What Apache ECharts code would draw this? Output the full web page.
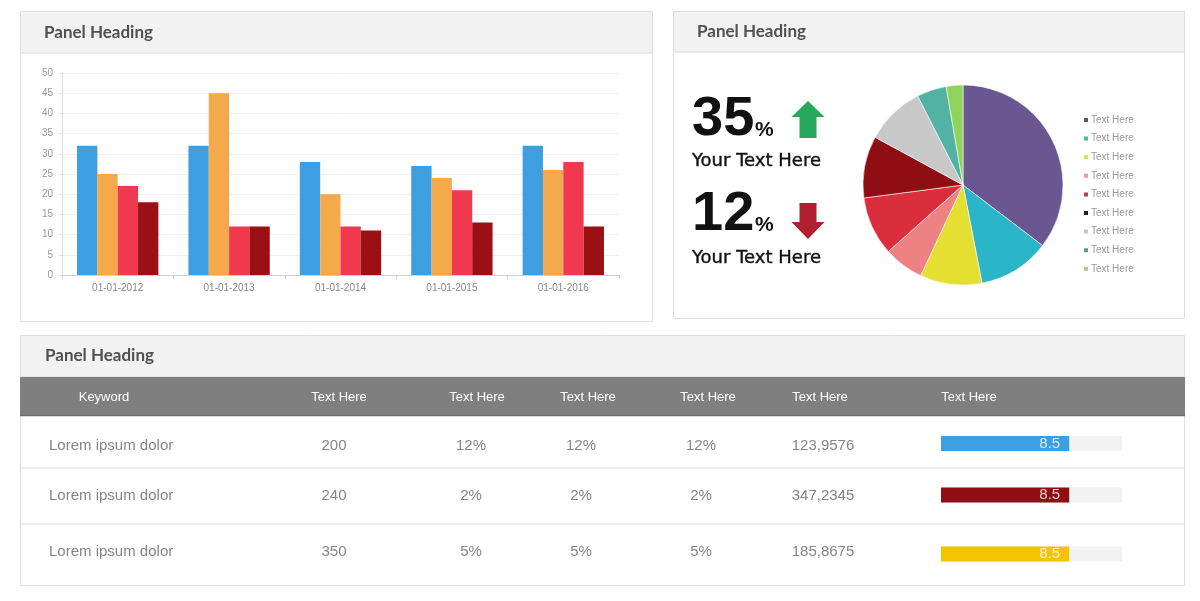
<!DOCTYPE html>
<html>
<head>
<meta charset="utf-8">
<script src="https://cdn.jsdelivr.net/npm/echarts@6/dist/echarts.min.js"></script>
<style>
  html, body { margin: 0; padding: 0; background: #ffffff; }
  #chart { width: 1200px; height: 601px; }
</style>
</head>
<body>
<div id="chart"></div>
<script>
// ---------- data ----------
const barCategories = ['01-01-2012', '01-01-2013', '01-01-2014', '01-01-2015', '01-01-2016'];
const seriesBlue   = [32, 32, 28, 27, 32];
const seriesOrange = [25, 45, 20, 24, 26];
const seriesRed    = [22, 12, 12, 21, 28];
const seriesDark   = [18, 12, 11, 13, 12];
const barColors = ['#3d9fe0', '#f4a94a', '#f0394f', '#9b1015'];

const pieValues = [35.4, 11.6, 10, 6.5, 9.5, 10, 9.6, 4.8, 2.7];
const pieColors = ['#6a5690', '#2bb5c8', '#e4df30', '#ee8282', '#dc2d3d', '#8e0e14', '#c8c8c8', '#52b3a4', '#8fd45a'];
const legendColors = ['#555555', '#4fb5a8', '#d9e24d', '#e89aaa', '#c03a4e', '#2b1a22', '#c8c8c8', '#5f9c8c', '#a9c896'];
const pieLabel = 'Text Here';

const statValues = ['35', '12'];
const statTexts = ['Your Text Here', 'Your Text Here'];

const tableHeaders = ['Keyword', 'Text Here', 'Text Here', 'Text Here', 'Text Here', 'Text Here', 'Text Here'];
const tableKeywords = ['Lorem ipsum dolor', 'Lorem ipsum dolor', 'Lorem ipsum dolor'];
const tableCol1 = ['200', '240', '350'];
const tableCol2 = ['12%', '2%', '5%'];
const tableCol3 = ['12%', '2%', '5%'];
const tableCol4 = ['12%', '2%', '5%'];
const tableCol5 = ['123,9576', '347,2345', '185,8675'];
const progressValues = [8.5, 8.5, 8.5];
const progressColors = ['#3d9fe0', '#8e0e14', '#f5c400'];
const progressMax = 12;

// ---------- layout ----------
const headFont = 'Lato, "Open Sans", sans-serif';
const tableFont = '"Liberation Sans", Arial, sans-serif';

const graphics = [];
function panel(x, y, w, h, headH, title, tx, ty) {
  graphics.push({ type: 'rect', z: -10, shape: { x: x + 0.5, y: y + 0.5, width: w, height: h },
    style: { fill: '#ffffff', stroke: '#dddddd', lineWidth: 1 } });
  graphics.push({ type: 'rect', z: -9, shape: { x: x + 1, y: y + 1, width: w - 1, height: headH },
    style: { fill: '#f2f2f2' } });
  graphics.push({ type: 'line', z: -9, shape: { x1: x + 1, y1: y + headH + 1, x2: x + w, y2: y + headH + 1 },
    style: { stroke: '#e4e4e4', lineWidth: 1.5 } });
  graphics.push({ type: 'text', z: 5, x: tx, y: ty,
    style: { text: title, fill: '#505050', font: 'bold 17px ' + headFont, verticalAlign: 'middle' } });
}
panel(20, 11, 632, 310, 41, 'Panel Heading', 44, 33);
panel(673, 11, 511, 307, 40, 'Panel Heading', 697, 32);
panel(20, 335, 1164, 250, 41, 'Panel Heading', 45, 356);

// stats with arrows
const statY = [120, 215];
const statTextY = [161, 258];
statValues.forEach((v, i) => {
  graphics.push({ type: 'text', x: 692, y: statY[i],
    style: { text: v, fill: '#111111', font: 'bold 56px "Liberation Sans", Arial, sans-serif', verticalAlign: 'middle' } });
  graphics.push({ type: 'text', x: 755, y: statY[i] + 10,
    style: { text: '%', fill: '#111111', font: 'bold 21px "Liberation Sans", Arial, sans-serif', verticalAlign: 'middle' } });
  graphics.push({ type: 'text', x: 692, y: statTextY[i],
    style: { text: statTexts[i], fill: '#111111', stroke: '#111111', lineWidth: 0.4,
      font: '18px "DejaVu Sans", sans-serif', verticalAlign: 'middle' } });
});
graphics.push({ type: 'polygon', shape: { points: [[808, 101], [824.5, 117], [816.5, 117], [816.5, 138], [799.5, 138], [799.5, 117], [791.5, 117]] },
  style: { fill: '#27a85a' } });
graphics.push({ type: 'polygon', shape: { points: [[799.5, 203], [816.5, 203], [816.5, 222], [824.5, 222], [808, 239], [791.5, 222], [799.5, 222]] },
  style: { fill: '#b0202e' } });

// table header
graphics.push({ type: 'rect', z: -8, shape: { x: 20, y: 377, width: 1165, height: 39 }, style: { fill: '#7f7f7f' } });
graphics.push({ type: 'line', z: -8, shape: { x1: 20, y1: 415.5, x2: 1185, y2: 415.5 }, style: { stroke: '#6e6e6e', lineWidth: 1.5 } });
const headerX = [104, 339, 477, 588, 708, 820, 969];
tableHeaders.forEach((h, i) => {
  graphics.push({ type: 'text', x: headerX[i], y: 397,
    style: { text: h, fill: '#ffffff', font: '13px ' + tableFont, align: 'center', verticalAlign: 'middle' } });
});
// rows
const rowY = [445.5, 495.5, 551.5];
[468, 524].forEach(y => {
  graphics.push({ type: 'line', z: -8, shape: { x1: 21, y1: y, x2: 1184, y2: y }, style: { stroke: '#eeeeee', lineWidth: 2 } });
});
const cols = [tableCol1, tableCol2, tableCol3, tableCol4, tableCol5];
const colX = [334, 471, 581, 701, 823];
tableKeywords.forEach((k, r) => {
  graphics.push({ type: 'text', x: 49, y: rowY[r],
    style: { text: k, fill: '#858585', font: '15px ' + tableFont, verticalAlign: 'middle' } });
  cols.forEach((c, ci) => {
    graphics.push({ type: 'text', x: colX[ci], y: rowY[r],
      style: { text: c[r], fill: '#858585', font: '15px ' + tableFont, align: 'center', verticalAlign: 'middle' } });
  });
});

// ---------- option ----------
const progressCenters = [443.5, 495, 554];
const grids = [{ left: 62, top: 73, width: 557, height: 202 }];
const xAxes = [{
  type: 'category', gridIndex: 0, data: barCategories,
  axisLine: { lineStyle: { color: '#d0d0d0' } },
  axisTick: { show: true, length: 4, lineStyle: { color: '#d0d0d0' } },
  axisLabel: { color: '#888888', fontSize: 10, margin: 8, fontFamily: tableFont }
}];
const yAxes = [{
  type: 'value', gridIndex: 0, min: 0, max: 50, interval: 5,
  axisLine: { show: true, lineStyle: { color: '#dddddd' } },
  axisTick: { show: true, length: 3, lineStyle: { color: '#dddddd' } },
  axisLabel: { color: '#999999', fontSize: 10, margin: 9, fontFamily: tableFont },
  splitLine: { lineStyle: { color: '#f0f0f0' } }
}];
const series = [seriesBlue, seriesOrange, seriesRed, seriesDark].map((d, i) => ({
  type: 'bar', xAxisIndex: 0, yAxisIndex: 0, data: d,
  barGap: '0%', barCategoryGap: '27%',
  itemStyle: { color: barColors[i] }
}));

series.push({
  type: 'pie', center: [963, 185], radius: 100, startAngle: 90, clockwise: true,
  label: { show: false }, labelLine: { show: false },
  itemStyle: { borderColor: '#ffffff', borderWidth: 0.6 },
  data: pieValues.map((v, i) => ({ name: 'slice' + i, value: v, itemStyle: { color: pieColors[i] } }))
});

progressValues.forEach((v, i) => {
  grids.push({ left: 941, width: 181, top: progressCenters[i] - 7.5, height: 15 });
  xAxes.push({ type: 'value', gridIndex: i + 1, min: 0, max: progressMax, show: false });
  yAxes.push({ type: 'category', gridIndex: i + 1, data: ['row' + i], show: false });
  series.push({
    type: 'bar', xAxisIndex: i + 1, yAxisIndex: i + 1, data: [v], barWidth: 15,
    showBackground: true, backgroundStyle: { color: '#f2f2f2' },
    itemStyle: { color: progressColors[i] },
    label: { show: true, position: 'insideRight', distance: 9, color: 'rgba(255,255,255,0.8)',
      fontSize: 15, fontFamily: tableFont, formatter: '{c}' }
  });
});

const option = {
  backgroundColor: '#ffffff',
  animation: false,
  grid: grids,
  xAxis: xAxes,
  yAxis: yAxes,
  legend: {
    orient: 'vertical', left: 1077, top: 109,
    icon: 'rect', itemWidth: 6, itemHeight: 6, itemGap: 6.6,
    selectedMode: false,
    formatter: () => pieLabel,
    textStyle: { color: '#999999', fontSize: 10, lineHeight: 12, fontFamily: tableFont, padding: [0, 0, 0, -3] },
    data: pieValues.map((v, i) => ({ name: 'slice' + i, itemStyle: { color: legendColors[i] } }))
  },
  graphic: { elements: graphics },
  series: series
};

const chart = echarts.init(document.getElementById('chart'), null, { renderer: 'canvas' });
chart.setOption(option);
</script>
</body>
</html>
